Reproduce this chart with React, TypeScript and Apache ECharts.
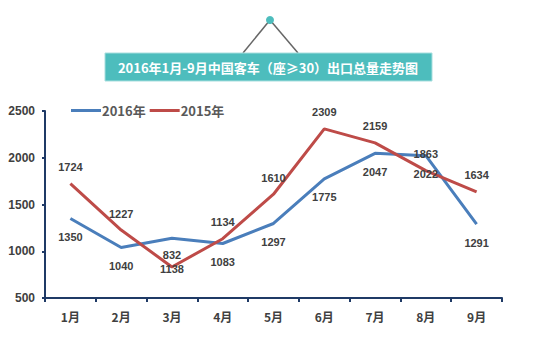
import React, { useEffect, useRef } from "react";
import * as echarts from "echarts";

const categories = ["1月", "2月", "3月", "4月", "5月", "6月", "7月", "8月", "9月"];
const values2016 = [1350, 1040, 1138, 1083, 1297, 1775, 2047, 2022, 1291];
const values2015 = [1724, 1227, 832, 1134, 1610, 2309, 2159, 1863, 1634];
const seriesNames = ["2016年", "2015年"];
const titleText = "2016年1月-9月中国客车（座≥30）出口总量走势图";

const BLUE = "#4A7EBB";
const RED = "#BE4B48";
const AXIS = "#1F3A66";
const LABEL_FONT = "'Liberation Sans', Arial, sans-serif";

export default function App() {
  const ref = useRef<HTMLDivElement>(null);
  useEffect(() => {
    if (!ref.current) return;
    const chart = echarts.init(ref.current, undefined, { renderer: "svg" });
    const labelStyle = {
      show: true,
      fontSize: 11,
      fontWeight: "bold",
      color: "#404040",
      fontFamily: LABEL_FONT,
    };
    const d2016 = values2016.map((v, i) =>
      i === 2
        ? { value: v, label: { position: "bottom", distance: 25 } }
        : { value: v }
    );
    const d2015 = values2015.map((v, i) =>
      i === 2
        ? { value: v, label: { position: "top", distance: 6 } }
        : { value: v }
    );
    chart.setOption({
      animation: false,
      backgroundColor: "#ffffff",
      grid: { left: 45, right: 48, top: 111, bottom: 54, containLabel: false },
      legend: {
        left: 66,
        top: 99,
        itemWidth: 30,
        itemHeight: 3,
        itemGap: 4,
        icon: "rect",
        data: seriesNames,
        textStyle: {
          fontSize: 13,
          fontWeight: "bold",
          color: "#595959",
          fontFamily: "'Noto Sans CJK SC', sans-serif",
          padding: [0, 0, 0, -4],
        },
      },
      xAxis: {
        type: "category",
        data: categories,
        boundaryGap: true,
        axisLine: { lineStyle: { color: AXIS, width: 2 } },
        axisTick: { show: true, length: 4, interval: 0, lineStyle: { color: AXIS, width: 2 } },
        axisLabel: {
          fontSize: 12,
          fontWeight: "bold",
          color: "#404040",
          margin: 12,
          fontFamily: "'Noto Sans CJK SC', sans-serif",
        },
        splitLine: { show: false },
      },
      yAxis: {
        type: "value",
        min: 500,
        max: 2500,
        interval: 500,
        axisLine: { show: true, lineStyle: { color: AXIS, width: 2 } },
        axisTick: { show: true, length: 3, lineStyle: { color: AXIS, width: 2 } },
        axisLabel: {
          fontSize: 12,
          fontWeight: "bold",
          color: "#404040",
          margin: 10,
          fontFamily: LABEL_FONT,
          formatter: (v: number) => String(v),
        },
        splitLine: { show: false },
      },
      series: [
        {
          name: seriesNames[0],
          type: "line",
          data: d2016,
          symbol: "circle",
          symbolSize: 0.01,
          showSymbol: true,
          lineStyle: { color: BLUE, width: 3 },
          itemStyle: { color: BLUE },
          label: { ...labelStyle, position: "bottom", distance: 13 },
        },
        {
          name: seriesNames[1],
          type: "line",
          data: d2015,
          symbol: "circle",
          symbolSize: 0.01,
          showSymbol: true,
          lineStyle: { color: RED, width: 3 },
          itemStyle: { color: RED },
          label: { ...labelStyle, position: "top", distance: 11 },
        },
      ],
      graphic: [
        {
          type: "line",
          shape: { x1: 270, y1: 20, x2: 243, y2: 53 },
          style: { stroke: "#666666", lineWidth: 1.5 },
        },
        {
          type: "line",
          shape: { x1: 270, y1: 20, x2: 298, y2: 53 },
          style: { stroke: "#666666", lineWidth: 1.5 },
        },
        {
          type: "circle",
          shape: { cx: 270, cy: 20, r: 4 },
          style: { fill: "#4DBDBD" },
        },
        {
          type: "rect",
          shape: { x: 105, y: 53, width: 327, height: 28 },
          style: { fill: "#4DBDBD", stroke: "#A8DEDE", lineWidth: 1 },
        },
        {
          type: "text",
          x: 268,
          y: 67,
          style: {
            text: titleText,
            fill: "#ffffff",
            fontSize: 13,
            fontWeight: "bold",
            fontFamily: "'Noto Sans CJK SC', sans-serif",
            align: "center",
            verticalAlign: "middle",
          },
        },
      ],
    });
    return () => chart.dispose();
  }, []);
  return <div ref={ref} style={{ width: 550, height: 352, position: "absolute", left: 0, top: 0 }} />;
}
